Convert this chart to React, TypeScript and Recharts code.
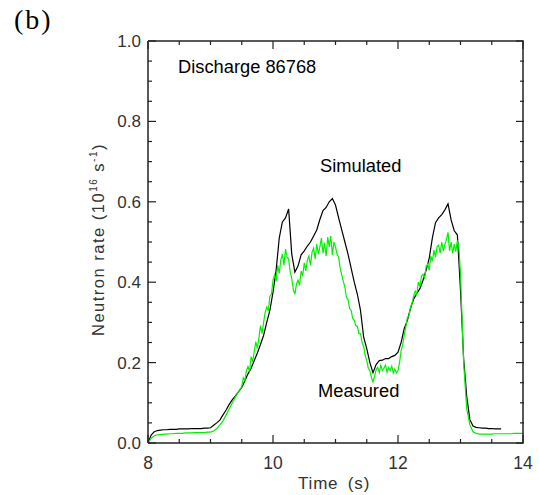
import { LineChart, Line, XAxis, YAxis } from "recharts"

const simTime = [
  8.0, 8.05, 8.1, 8.15, 8.2, 8.25, 8.3, 8.35, 8.4, 8.45, 8.5, 8.55, 8.6, 8.65, 8.7, 8.75, 8.8, 8.85, 8.9, 8.95,
  9.0, 9.05, 9.1, 9.15, 9.2, 9.25, 9.3, 9.35, 9.4, 9.45, 9.5, 9.55, 9.6, 9.65, 9.7, 9.75, 9.8, 9.85, 9.9, 9.95,
  10.0, 10.05, 10.1, 10.15, 10.2, 10.25, 10.3, 10.35, 10.4, 10.45, 10.5, 10.55, 10.6, 10.65, 10.7, 10.75, 10.8, 10.85, 10.9, 10.95,
  11.0, 11.05, 11.1, 11.15, 11.2, 11.25, 11.3, 11.35, 11.4, 11.45, 11.5, 11.55, 11.6, 11.65, 11.7, 11.75, 11.8, 11.85, 11.9, 11.95,
  12.0, 12.05, 12.1, 12.15, 12.2, 12.25, 12.3, 12.35, 12.4, 12.45, 12.5, 12.55, 12.6, 12.65, 12.7, 12.75, 12.8, 12.85, 12.9, 12.95,
  13.0, 13.05, 13.1, 13.15, 13.2, 13.25, 13.3, 13.35, 13.4, 13.45, 13.5, 13.55, 13.6, 13.65,
]

// black trace
const simulated = [
  0.0, 0.02, 0.028, 0.031, 0.032, 0.033, 0.033, 0.034, 0.034, 0.034, 0.035, 0.035, 0.035, 0.035, 0.036, 0.036, 0.036, 0.036, 0.037, 0.037,
  0.038, 0.044, 0.05, 0.057, 0.07, 0.082, 0.096, 0.108, 0.117, 0.128, 0.138, 0.155, 0.172, 0.186, 0.205, 0.224, 0.245, 0.268, 0.3, 0.33,
  0.375, 0.43, 0.51, 0.55, 0.56, 0.582, 0.47, 0.425, 0.44, 0.468, 0.478, 0.49, 0.5, 0.515, 0.53, 0.556, 0.578, 0.586, 0.6, 0.608,
  0.592, 0.56, 0.53, 0.5, 0.47, 0.435, 0.4, 0.37, 0.33, 0.264, 0.235, 0.2, 0.175, 0.195, 0.205, 0.206, 0.21, 0.21, 0.215, 0.218,
  0.226, 0.25, 0.285, 0.305, 0.335, 0.358, 0.372, 0.384, 0.405, 0.43, 0.46, 0.51, 0.548, 0.56, 0.568, 0.58, 0.595, 0.555, 0.528, 0.518,
  0.38, 0.21, 0.115, 0.058, 0.042, 0.039, 0.038, 0.037, 0.037, 0.036, 0.036, 0.035, 0.035, 0.035,
]

// green trace: sampled more densely where it is noisy
const measTime = [
  8.0, 8.05, 8.1, 8.15, 8.2, 8.25, 8.3, 8.35, 8.4, 8.45, 8.5, 8.55, 8.6, 8.65, 8.7, 8.75, 8.8, 8.85, 8.9, 8.95,
  9.0, 9.05, 9.1, 9.15, 9.2, 9.25, 9.3, 9.35, 9.4, 9.45,
  9.5, 9.525, 9.55, 9.575, 9.6, 9.625, 9.65, 9.675, 9.7, 9.725, 9.75, 9.775, 9.8, 9.825, 9.85, 9.875, 9.9, 9.925, 9.95, 9.975,
  10.0, 10.025, 10.05, 10.075, 10.1, 10.125, 10.15, 10.175, 10.2, 10.225, 10.25, 10.275, 10.3, 10.325, 10.35, 10.375, 10.4, 10.425, 10.45, 10.475,
  10.5, 10.525, 10.55, 10.575, 10.6, 10.625, 10.65, 10.675, 10.7, 10.725, 10.75, 10.775, 10.8, 10.825, 10.85, 10.875, 10.9, 10.925, 10.95, 10.975,
  11.0, 11.025, 11.05, 11.075, 11.1, 11.125, 11.15, 11.175, 11.2, 11.225, 11.25, 11.275, 11.3, 11.325, 11.35, 11.375, 11.4, 11.425, 11.45, 11.475,
  11.5, 11.525, 11.55, 11.575, 11.6, 11.625, 11.65, 11.675, 11.7, 11.725, 11.75, 11.775, 11.8, 11.825, 11.85, 11.875, 11.9, 11.925, 11.95, 11.975,
  12.0, 12.025, 12.05, 12.075, 12.1, 12.125, 12.15, 12.175, 12.2, 12.225, 12.25, 12.275, 12.3, 12.325, 12.35, 12.375, 12.4, 12.425, 12.45, 12.475,
  12.5, 12.525, 12.55, 12.575, 12.6, 12.625, 12.65, 12.675, 12.7, 12.725, 12.75, 12.775, 12.8, 12.825, 12.85, 12.875, 12.9, 12.925, 12.95, 12.975,
  13.0, 13.05, 13.1, 13.15, 13.2, 13.25, 13.3, 13.35, 13.4, 13.45, 13.5, 13.55, 13.6, 13.65, 13.7, 13.75, 13.8, 13.85, 13.9, 13.95,
  14.0,
]
const measured = [
  0.0, 0.012, 0.018, 0.02, 0.021, 0.022, 0.022, 0.023, 0.023, 0.024, 0.024, 0.024, 0.025, 0.025, 0.025, 0.026, 0.026, 0.026, 0.026, 0.027,
  0.027, 0.03, 0.036, 0.045, 0.055, 0.07, 0.085, 0.1, 0.115, 0.128,
  0.14, 0.162, 0.155, 0.18, 0.19, 0.178, 0.215, 0.202, 0.228, 0.252, 0.235, 0.262, 0.292, 0.272, 0.3, 0.325, 0.338, 0.328, 0.365, 0.37,
  0.405, 0.418, 0.402, 0.442, 0.422, 0.455, 0.47, 0.442, 0.482, 0.462, 0.458, 0.425, 0.41, 0.382, 0.37, 0.395, 0.405, 0.392, 0.428, 0.415,
  0.448, 0.428, 0.455, 0.465, 0.442, 0.475, 0.485, 0.458, 0.495, 0.47, 0.488, 0.51, 0.472, 0.498, 0.465, 0.512, 0.488, 0.515, 0.468, 0.5,
  0.488, 0.47, 0.462, 0.435, 0.418, 0.402, 0.388, 0.362, 0.358, 0.335, 0.33, 0.31, 0.305, 0.292, 0.29, 0.272, 0.272, 0.25, 0.24, 0.218,
  0.205, 0.186, 0.18, 0.163, 0.152, 0.166, 0.182, 0.188, 0.176, 0.193, 0.18, 0.186, 0.194, 0.176, 0.188, 0.18, 0.191, 0.174, 0.184, 0.174,
  0.18, 0.2, 0.23, 0.244, 0.268, 0.288, 0.312, 0.316, 0.338, 0.348, 0.365, 0.378, 0.37, 0.4, 0.39, 0.415, 0.42, 0.408, 0.44, 0.445,
  0.43, 0.465, 0.452, 0.48, 0.462, 0.488, 0.492, 0.472, 0.5, 0.478, 0.494, 0.506, 0.524, 0.478, 0.5, 0.472, 0.495, 0.476, 0.504, 0.486,
  0.42, 0.2, 0.085, 0.045, 0.028, 0.024, 0.022, 0.022, 0.022, 0.022, 0.022, 0.023, 0.023, 0.023, 0.023, 0.023, 0.023, 0.024, 0.024, 0.024,
  0.024,
]

const xTicks = [8, 8.5, 9, 9.5, 10, 10.5, 11, 11.5, 12, 12.5, 13, 13.5, 14]
const yTicks = [0, 0.05, 0.1, 0.15, 0.2, 0.25, 0.3, 0.35, 0.4, 0.45, 0.5, 0.55, 0.6, 0.65, 0.7, 0.75, 0.8, 0.85, 0.9, 0.95, 1.0]

const simData = simTime.map((t, i) => ({ t, v: simulated[i] }))
const measData = measTime.map((t, i) => ({ t, v: measured[i] }))

// plot box edges (px), follow from margins + axis sizes
const W = 539
const H = 495
const LEFT_W = 60
const BOTTOM_H = 52
const M = { top: 40, right: 15, bottom: 0, left: 88 }
const PL = M.left + LEFT_W
const PR = W - M.right
const PT = M.top + 1
const PB = H - M.bottom - BOTTOM_H

const AX = "#222"
const FONT = "'Liberation Sans', Arial, sans-serif"

const isMajorX = (v: number) => Math.abs(v / 2 - Math.round(v / 2)) < 1e-6
const isMajorY = (v: number) => Math.abs(v * 5 - Math.round(v * 5)) < 1e-6

const BottomTick = (p: any) => {
  const v = p.payload.value
  const maj = isMajorX(v)
  return (
    <g>
      <line x1={p.x} x2={p.x} y1={PB} y2={PB - (maj ? 8 : 4)} stroke={AX} strokeWidth={1.2} />
      {maj && <text x={p.x} y={PB + 26} textAnchor="middle" fontSize={17.5} fill="#333" fontFamily={FONT}>{v}</text>}
    </g>
  )
}
const TopTick = (p: any) => {
  const maj = isMajorX(p.payload.value)
  return <line x1={p.x} x2={p.x} y1={PT} y2={PT + (maj ? 8 : 4)} stroke={AX} strokeWidth={1.2} />
}
const LeftTick = (p: any) => {
  const v = p.payload.value
  const maj = isMajorY(v)
  return (
    <g>
      <line x1={PL} x2={PL + (maj ? 8 : 4)} y1={p.y} y2={p.y} stroke={AX} strokeWidth={1.2} />
      {maj && <text x={PL - 7} y={p.y + 6} textAnchor="end" fontSize={17} fill="#333" fontFamily={FONT}>{v.toFixed(1)}</text>}
    </g>
  )
}
const RightTick = (p: any) => {
  const maj = isMajorY(p.payload.value)
  return <line x1={PR} x2={PR - (maj ? 8 : 4)} y1={p.y} y2={p.y} stroke={AX} strokeWidth={1.2} />
}

const YLabel = () => (
  <text transform="translate(104,336) rotate(-90)" textAnchor="start" fontSize={16.5} letterSpacing={1.5} fill="#333" fontFamily={FONT}>
    Neutron rate (10<tspan fontSize={10} dy={-7}>16</tspan><tspan dy={7}> s</tspan><tspan fontSize={10} dy={-7}>-1</tspan><tspan dy={7}>)</tspan>
  </text>
)
const XLabel = () => (
  <text x={298} y={489} textAnchor="start" fontSize={17} letterSpacing={0.8} wordSpacing={4} fill="#333" fontFamily={FONT}>Time (s)</text>
)

const note = { fontFamily: FONT, fontSize: 18.3, fill: "#000" }
const axLine = { stroke: AX, strokeWidth: 1.5 }

export default function App() {
  return (
    <div style={{ position: "relative", width: W, height: H, background: "#fff" }}>
      <style>{`body{margin:0}`}</style>
      <LineChart width={W} height={H} margin={M}>
        <XAxis dataKey="t" type="number" domain={[8, 14]} ticks={xTicks} interval={0} tick={<BottomTick />} height={BOTTOM_H}
          axisLine={axLine} tickLine={false} allowDataOverflow label={<XLabel />} />
        <XAxis xAxisId="top" dataKey="t" type="number" orientation="top" domain={[8, 14]} ticks={xTicks} interval={0} tick={<TopTick />}
          height={1} axisLine={axLine} tickLine={false} allowDataOverflow />
        <YAxis type="number" domain={[0, 1]} ticks={yTicks} interval={0} tick={<LeftTick />} width={LEFT_W}
          axisLine={axLine} tickLine={false} allowDataOverflow label={<YLabel />} />
        <YAxis yAxisId="right" type="number" orientation="right" domain={[0, 1]} ticks={yTicks} interval={0} tick={<RightTick />}
          width={1} axisLine={axLine} tickLine={false} allowDataOverflow />
        <Line data={simData} dataKey="v" stroke="#000" strokeWidth={1.2} dot={false} isAnimationActive={false} type="linear" />
        <Line data={measData} dataKey="v" xAxisId="top" yAxisId="right" stroke="#00f000" strokeWidth={1.2} dot={false}
          isAnimationActive={false} type="linear" />
      </LineChart>
      <div style={{ position: "absolute", left: 14, top: 4, fontFamily: "'Liberation Serif', serif", fontSize: 28, letterSpacing: 2 }}>(b)</div>
      <svg width={W} height={H} style={{ position: "absolute", left: 0, top: 0, pointerEvents: "none" }}>
        <text x={178} y={73} {...note}>Discharge 86768</text>
        <text x={320} y={172} {...note}>Simulated</text>
        <text x={318} y={397} {...note}>Measured</text>
      </svg>
    </div>
  )
}
